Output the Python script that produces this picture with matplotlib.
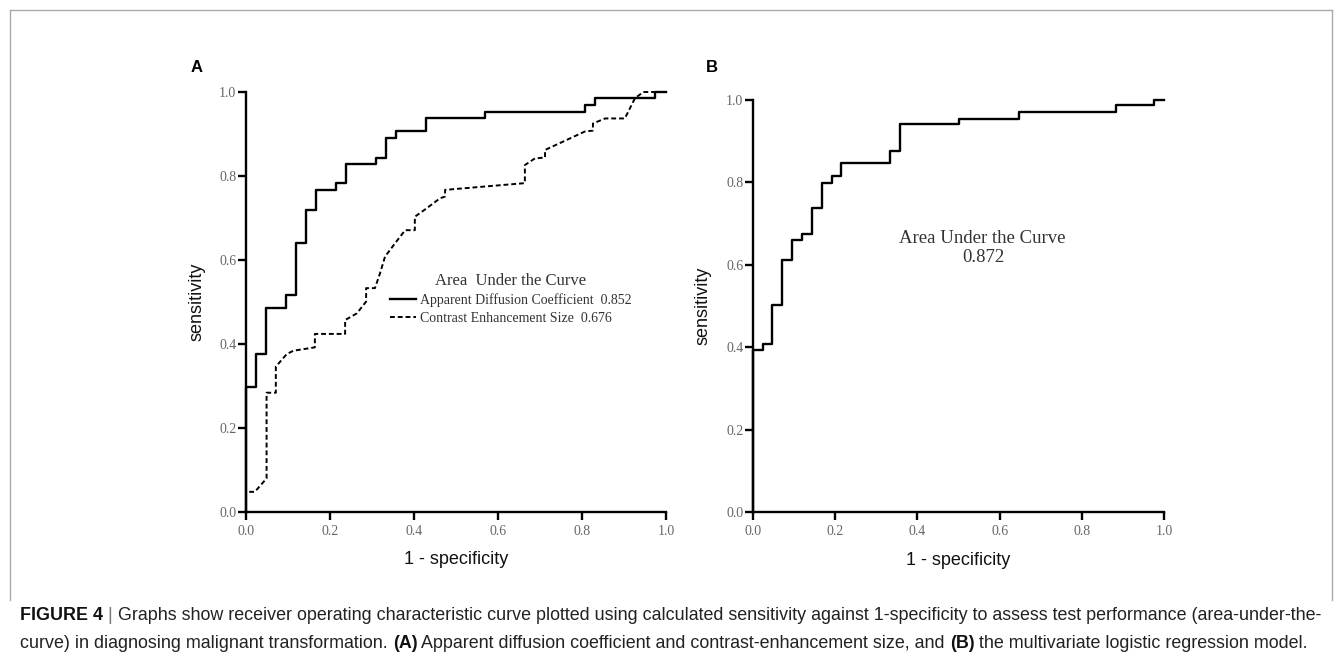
import matplotlib
matplotlib.use('Agg')
import matplotlib.pyplot as plt
from matplotlib.lines import Line2D

# ---------------- data ----------------
ticks = [0.0, 0.2, 0.4, 0.6, 0.8, 1.0]
tick_labels = ['0.0', '0.2', '0.4', '0.6', '0.8', '1.0']

# Panel A: Apparent Diffusion Coefficient (step curve)
adc_fpr = [0, 0, 0.024, 0.048, 0.095, 0.119, 0.142, 0.166, 0.214, 0.238, 0.310,
           0.333, 0.357, 0.428, 0.569, 0.807, 0.831, 0.974, 1.0]
adc_tpr = [0, 0.298, 0.376, 0.485, 0.517, 0.641, 0.719, 0.767, 0.783, 0.829, 0.844,
           0.891, 0.906, 0.937, 0.953, 0.969, 0.985, 1.0, 1.0]

# Panel A: Contrast Enhancement Size (polyline with ties)
ces_fpr = [0, 0, 0.021, 0.049, 0.049, 0.071, 0.071, 0.097, 0.113, 0.164,
           0.164, 0.236, 0.236, 0.264, 0.286, 0.286, 0.307, 0.319, 0.331, 0.355,
           0.379, 0.402, 0.402, 0.430, 0.462, 0.474, 0.474, 0.664, 0.664, 0.688,
           0.712, 0.712, 0.807, 0.826, 0.826, 0.855, 0.902, 0.926, 0.946, 1.0]
ces_tpr = [0, 0.048, 0.048, 0.08, 0.284, 0.284, 0.346, 0.376, 0.384, 0.392,
           0.424, 0.424, 0.457, 0.473, 0.501, 0.533, 0.533, 0.568, 0.608, 0.64,
           0.671, 0.671, 0.703, 0.723, 0.747, 0.751, 0.767, 0.783, 0.826, 0.842,
           0.844, 0.862, 0.906, 0.908, 0.925, 0.937, 0.937, 0.985, 1.0, 1.0]

# Panel B: multivariate logistic regression model (step curve)
mdl_fpr = [0, 0, 0.024, 0.047, 0.071, 0.096, 0.119, 0.143, 0.167, 0.191, 0.215,
           0.333, 0.358, 0.501, 0.646, 0.882, 0.976, 1.0]
mdl_tpr = [0, 0.392, 0.408, 0.502, 0.612, 0.659, 0.675, 0.738, 0.799, 0.815, 0.846,
           0.877, 0.941, 0.955, 0.970, 0.988, 1.0, 1.0]

auc_adc = 0.852
auc_ces = 0.676
auc_mdl = 0.872

# ---------------- figure ----------------
W, H = 1342, 666
fig = plt.figure(figsize=(W / 100, H / 100), dpi=100)
fig.patch.set_facecolor('white')

def px_rect(l, t, r, b):
    return [l / W, 1 - b / H, (r - l) / W, (b - t) / H]

axA = fig.add_axes(px_rect(246, 92, 666, 512))
axB = fig.add_axes(px_rect(753, 100, 1164, 512))

SERIF = ['Liberation Serif', 'DejaVu Serif']
SANS = ['Liberation Sans', 'DejaVu Sans']

def style(ax):
    ax.set_xlim(0, 1)
    ax.set_ylim(0, 1)
    for s in ['top', 'right']:
        ax.spines[s].set_visible(False)
    for s in ['left', 'bottom']:
        ax.spines[s].set_linewidth(1.7)
        ax.spines[s].set_color('black')
    ax.set_xticks(ticks)
    ax.set_yticks(ticks)
    ax.set_xticklabels(tick_labels, family=SERIF, fontsize=10, color='#666666')
    ax.set_yticklabels(tick_labels, family=SERIF, fontsize=10, color='#666666')
    ax.tick_params(axis='x', direction='out', length=6, width=1.7, pad=3.5)
    ax.tick_params(axis='y', direction='out', length=6, width=1.7, pad=1)
    ax.set_xlabel('1 - specificity', family=SANS, fontsize=13, color='#111111')
    ax.set_ylabel('sensitivity', family=SANS, fontsize=13, color='#111111')
    ax.xaxis.label.set_va('center')
    ax.yaxis.label.set_va('center')

style(axA)
style(axB)
axA.xaxis.set_label_coords(0.5, -0.114)
axA.yaxis.set_label_coords(-0.117, 0.5)
axB.xaxis.set_label_coords(0.5, -0.117)
axB.yaxis.set_label_coords(-0.122, 0.5)

# curves
l1, = axA.plot(adc_fpr, adc_tpr, drawstyle='steps-post', color='black', lw=1.7,
               clip_on=False, zorder=3,
               label=f'Apparent Diffusion Coefficient  {auc_adc:.3f}')
l2, = axA.plot(ces_fpr, ces_tpr, color='black', lw=1.4, linestyle=(0, (2.5, 1.5)),
               clip_on=False, zorder=2,
               label=f'Contrast Enhancement Size  {auc_ces:.3f}')
axB.plot(mdl_fpr, mdl_tpr, drawstyle='steps-post', color='black', lw=1.7,
         clip_on=False, zorder=3)

leg = axA.legend(handles=[l1, l2], loc='upper left', bbox_to_anchor=(0.343, 0.57),
                 frameon=False, borderpad=0, borderaxespad=0, handlelength=1.9,
                 handletextpad=0.25, labelspacing=0.35,
                 prop={'family': SERIF, 'size': 10},
                 title='Area  Under the Curve',
                 title_fontproperties={'family': SERIF, 'size': 12})
leg.get_title().set_color('#333333')
for t in leg.get_texts():
    t.set_color('#333333')

axB.text(0.557, 0.665, 'Area Under the Curve', transform=axB.transAxes, ha='center',
         va='center', family=SERIF, fontsize=13.5, color='#333333')
axB.text(0.56, 0.617, f'{auc_mdl:.3f}', transform=axB.transAxes, ha='center',
         va='center', family=SERIF, fontsize=13.5, color='#333333')

# panel labels
fig.text(197 / W, 1 - 68 / H, 'A', family=SANS, fontsize=12, fontweight='bold',
         ha='center', va='center')
fig.text(712 / W, 1 - 68 / H, 'B', family=SANS, fontsize=12, fontweight='bold',
         ha='center', va='center')

# frame
frame_col = '#aaaaaa'
fig.add_artist(Line2D([10 / W, 10 / W], [1 - 600 / H, 1 - 10 / H], color=frame_col,
                      lw=1, transform=fig.transFigure))
fig.add_artist(Line2D([10 / W, 1332 / W], [1 - 10 / H, 1 - 10 / H], color=frame_col,
                      lw=1, transform=fig.transFigure))
fig.add_artist(Line2D([1332 / W, 1332 / W], [1 - 600 / H, 1 - 10 / H], color=frame_col,
                      lw=1, transform=fig.transFigure))

# caption
CAP = ['Liberation Sans Narrow', 'Liberation Sans', 'DejaVu Sans']
line1 = [('FIGURE 4', 'bold', '#111111'), (' | ', 'normal', '#777777'),
         ('Graphs show receiver operating characteristic curve plotted using calculated '
          'sensitivity against 1-specificity to assess test performance (area-under-the-',
          'normal', '#222222')]
line2 = [('curve) in diagnosing malignant transformation. ', 'normal', '#222222'),
         ('(A)', 'bold', '#111111'),
         (' Apparent diffusion coefficient and contrast-enhancement size, and ', 'normal',
          '#222222'),
         ('(B)', 'bold', '#111111'),
         (' the multivariate logistic regression model.', 'normal', '#222222')]

renderer = fig.canvas.get_renderer()

def draw_line(segs, x0, y, fs):
    x = x0
    arts = []
    for s, w, c in segs:
        t = fig.text(x / W, 1 - y / H, s, family=CAP, fontsize=fs, fontweight=w,
                     color=c, ha='left', va='center')
        bb = t.get_window_extent(renderer)
        x += bb.width
        arts.append(t)
    return x - x0, arts

fs0 = 11
wid, arts = draw_line(line1, 20, 616, fs0)
for a in arts:
    a.remove()
fs = fs0 * (1296 / wid)
draw_line(line1, 20, 616, fs)
draw_line(line2, 20, 644, fs)

fig.savefig('out.png', dpi=100, facecolor='white')
